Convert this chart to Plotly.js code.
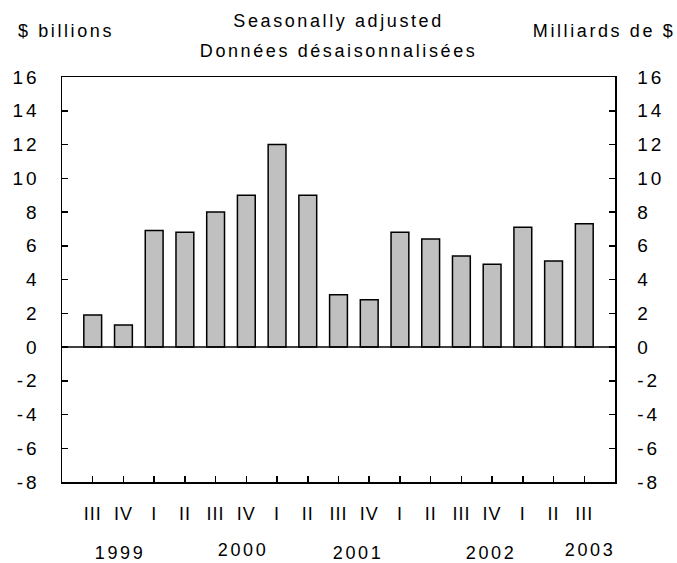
<!DOCTYPE html>
<html>
<head>
<meta charset="utf-8">
<script src="https://cdn.plot.ly/plotly-3.0.1.min.js"></script>
<style>
html,body{margin:0;padding:0;background:#fff;}
#chart{width:677px;height:563px;}
.main-svg .annotation-text{letter-spacing:2.6px;}
.main-svg g.ytick text, .main-svg g.y2tick text{letter-spacing:3px;}
.main-svg g.xtick text{letter-spacing:1px;}
</style>
</head>
<body>
<div id="chart"></div>
<script>
// Data
const quarters = ["III","IV","I","II","III","IV","I","II","III","IV","I","II","III","IV","I","II","III"];
const values = [1.9, 1.3, 6.9, 6.8, 8.0, 9.0, 12.0, 9.0, 3.1, 2.8, 6.8, 6.4, 5.4, 4.9, 7.1, 5.1, 7.3];
const years = ["1999","2000","2001","2002","2003"];
const yTickVals = [-8,-6,-4,-2,0,2,4,6,8,10,12,14,16];
const yTickText = ["-8","-6","-4","-2","0","2","4","6","8","10","12","14","16"];

const idx = quarters.map((q,i)=>i);
const FONT = "Liberation Sans, Arial, sans-serif";
const fs = 18;
const tfs = 19;

const trace = {
  type: "bar",
  x: idx,
  y: values,
  width: 0.58,
  marker: {color: "#c0c0c0", line: {color: "#000", width: 1.5}},
  hoverinfo: "skip"
};
const trace2 = {type:"scatter", x:[0], y:[0], yaxis:"y2", mode:"markers", marker:{opacity:0}, hoverinfo:"skip", showlegend:false};

const yearPos = [0.9, 4.9, 8.65, 12.95, 16.2];
const yearShift = [-71, -68, -71, -71, -68];
const annotations = years.map((t,i)=>({
  text: t, x: yearPos[i], xref: "x", y: 0, yref: "paper",
  yanchor: "middle", xanchor: "center", yshift: yearShift[i], showarrow: false,
  font: {family: FONT, size: fs, color: "#000"}
}));
annotations.push(
  {text:"Seasonally adjusted", x:0.5, xref:"paper", y:1, yref:"paper", yshift:56, yanchor:"middle", xanchor:"center", showarrow:false, font:{family:FONT,size:fs,color:"#000"}},
  {text:"Données désaisonnalisées", x:0.5, xref:"paper", y:1, yref:"paper", yshift:26, yanchor:"middle", xanchor:"center", showarrow:false, font:{family:FONT,size:fs,color:"#000"}},
  {text:"$ billions", x:0.008, xref:"paper", y:1, yref:"paper", yshift:46, yanchor:"middle", xanchor:"center", showarrow:false, font:{family:FONT,size:fs,color:"#000"}},
  {text:"Milliards de $", x:0.98, xref:"paper", y:1, yref:"paper", yshift:46, yanchor:"middle", xanchor:"center", showarrow:false, font:{family:FONT,size:fs,color:"#000"}}
);

const yaxisBase = {
  range: [-8, 16], tickvals: yTickVals, ticktext: yTickText,
  ticks: "inside", ticklen: 6, tickwidth: 1.5, tickcolor: "#000",
  showgrid: false, zeroline: false,
  showline: true, linecolor: "#000", linewidth: 1.5,
  tickfont: {family: FONT, size: tfs, color: "#000"},
  ticklabelstandoff: 17, fixedrange: true
};

const layout = {
  width: 677, height: 563,
  margin: {l: 62, r: 62, t: 77, b: 81},
  paper_bgcolor: "#fff", plot_bgcolor: "#fff",
  showlegend: false,
  bargap: 0,
  xaxis: {
    range: [-1, 17], tickvals: idx, ticktext: quarters,
    ticks: "inside", ticklen: 6, tickwidth: 1.5, tickcolor: "#000",
    showline: true, mirror: true, linecolor: "#000", linewidth: 1.5,
    showgrid: false, zeroline: false,
    tickfont: {family: FONT, size: fs, color: "#000"},
    ticklabelstandoff: 15, fixedrange: true
  },
  yaxis: Object.assign({}, yaxisBase, {side: "left", mirror: true}),
  yaxis2: Object.assign({}, yaxisBase, {side: "right", overlaying: "y"}),
  shapes: [{type:"line", xref:"paper", x0:0, x1:1, yref:"y", y0:0, y1:0, line:{color:"#000", width:1.5}}],
  annotations: annotations
};

Plotly.newPlot("chart", [trace, trace2], layout, {staticPlot: true, displayModeBar: false});
</script>
</body>
</html>
